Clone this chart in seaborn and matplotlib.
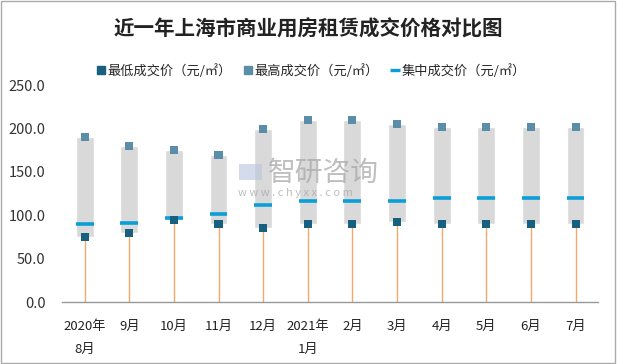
import numpy as np
import pandas as pd
import matplotlib
matplotlib.use('Agg')
import matplotlib.pyplot as plt
import seaborn as sns
from matplotlib.lines import Line2D
from matplotlib.patches import Rectangle

# datos
meses = ['2020年\n8月', '9月', '10月', '11月', '12月', '2021年\n1月',
         '2月', '3月', '4月', '5月', '6月', '7月']
precio_min = [75, 80, 95, 90, 85, 90, 90, 92, 90, 90, 90, 90]
precio_max = [190, 180, 175, 170, 200, 210, 210, 205, 202, 202, 202, 202]
precio_medio = [90, 91, 97, 102, 112, 116, 116, 117, 120, 120, 120, 120]

df = pd.DataFrame({'mes': meses, 'min': precio_min, 'max': precio_max, 'medio': precio_medio})
df['rango'] = df['max'] - df['min']

sns.set_style("white")
plt.rcParams['font.family'] = ['Noto Sans CJK SC', 'DejaVu Sans']

color_min = "#17607f"
color_max = "#5a8ea8"
color_medio = "#0a9fd8"
color_caja = "#d9d9d9"
color_linea = "#f0aa6e"

fig = plt.figure(figsize=(6.17, 3.64), dpi=100)
ax = fig.add_axes([0.101, 0.170, 0.868, 0.596])

# cajas grises (del minimo al maximo)
sns.barplot(data=df, x='mes', y='rango', bottom=df['min'], color=color_caja,
            width=0.4, saturation=1, ax=ax, zorder=1)

pos = np.arange(len(meses))
# lineas naranjas desde 0 hasta el minimo
ax.vlines(pos, 0, df['min'], color=color_linea, lw=1, zorder=2)
# precio medio
ax.hlines(df['medio'], pos - 0.2, pos + 0.2, color=color_medio, lw=2.6, zorder=3)
# marcadores min y max
sns.scatterplot(x=pos, y=df['min'], marker='s', s=34, color=color_min,
                edgecolor='none', ax=ax, zorder=4)
sns.scatterplot(x=pos, y=df['max'], marker='s', s=34, color=color_max,
                edgecolor='none', ax=ax, zorder=4)

ax.set_xlim(-0.5, len(meses) - 0.5)
ax.set_ylim(0, 250)
ax.set_yticks(range(0, 251, 50))
ax.set_yticklabels([f'{v:.1f}' for v in range(0, 251, 50)], fontsize=10.5, color='#333333')
ax.set_xticks(pos)
ax.set_xticklabels(meses, fontsize=9.5, color='#222222', linespacing=1.95)
ax.tick_params(axis='y', length=0, pad=12)
ax.tick_params(axis='x', length=0, pad=13)
ax.set_xlabel('')
ax.set_ylabel('')
for s in ['top', 'right', 'left']:
    ax.spines[s].set_visible(False)
ax.spines['bottom'].set_color('#999999')
ax.spines['bottom'].set_linewidth(1)

# marca de agua
fig.text(0.435, 0.525, '智研咨询', fontsize=20, color='#a8a8a8', alpha=0.75, ha='left', va='center')
fig.text(0.385, 0.47, 'w w w . c h y x x . c o m', fontsize=8, color='#a8a8a8', alpha=0.75,
         ha='left', va='center')
fig.patches.append(Rectangle((0.387, 0.505), 0.038, 0.045, transform=fig.transFigure,
                             facecolor='#b8c4dc', alpha=0.6, edgecolor='none'))

fig.text(0.5, 0.919, '近一年上海市商业用房租赁成交价格对比图', ha='center', va='center',
         fontsize=14.8, fontweight='bold', color='#222222')

handles = [
    Line2D([], [], ls='none', marker='s', markersize=5.5, color=color_min),
    Line2D([], [], ls='none', marker='s', markersize=5.5, color=color_max),
    Line2D([], [], ls='none', marker='_', markersize=7, markeredgewidth=2.4, color=color_medio),
]
fig.legend(handles, ['最低成交价（元/㎡）', '最高成交价（元/㎡）', '集中成交价（元/㎡）'],
           loc='center', bbox_to_anchor=(0.505, 0.805), ncol=3, frameon=False,
           fontsize=9.5, handlelength=0.6, handletextpad=0.2, columnspacing=0.9)

fig.patches.append(Rectangle((0.002, 0.003), 0.995, 0.994, transform=fig.transFigure,
                             fill=False, edgecolor='#aaaaaa', lw=1))

fig.savefig('out.png', dpi=100)
